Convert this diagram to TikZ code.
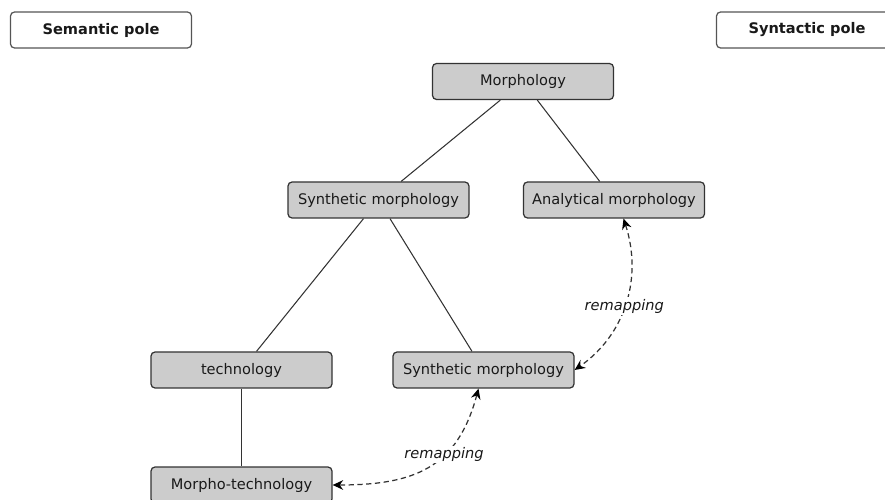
\documentclass[tikz,border=0pt]{standalone}
\usepackage{fontspec}
\setmainfont{DejaVu Sans}
\usetikzlibrary{arrows.meta}
\definecolor{boxfill}{HTML}{CCCCCC}
\definecolor{boxline}{HTML}{333333}
\definecolor{poleline}{HTML}{555555}

\begin{document}
\begin{tikzpicture}[
  box/.style={draw=boxline,fill=boxfill,rounded corners=2.3pt,line width=0.7pt,
    minimum width=3.62cm,minimum height=0.72cm,inner sep=0pt,
    font=\fontsize{8.3}{10}\selectfont,text=black!90},
  pole/.style={box,fill=white,draw=poleline,font=\fontsize{8.3}{10}\selectfont\bfseries},
  link/.style={draw=boxline,line width=0.6pt},
  remap/.style={draw=boxline,line width=0.7pt,dashed,dash pattern=on 3pt off 2pt,
    {Stealth[length=6pt,width=5.5pt,inset=2pt,black]}-{Stealth[length=6pt,width=5.5pt,inset=2pt,black]}},
  lbl/.style={fill=white,inner sep=1pt,font=\fontsize{8.3}{10}\selectfont\itshape,text=black!90}
]
\useasboundingbox (0,0) rectangle (17.7,-10);
% the two poles
\node[pole] at (2.02,-0.60) (sem) {Semantic pole};
\node[pole] at (16.14,-0.60) (syn) {Syntactic pole};
% the tree
\node[box] at (10.46,-1.63) (morph) {Morphology};
\node[box] at (7.57,-4.00) (synth) {Synthetic morphology};
\node[box] at (12.28,-4.00) (analyt) {Analytical morphology};
\node[box] at (4.83,-7.40) (tech) {technology};
\node[box] at (9.67,-7.40) (synthlow) {Synthetic morphology};
\node[box] at (4.83,-9.70) (morphotech) {Morpho-technology};
\draw[link] (morph) -- (synth);
\draw[link] (morph) -- (analyt);
\draw[link] (synth) -- (tech);
\draw[link] (synth) -- (synthlow);
\draw[link] (tech) -- (morphotech);
% remappings
\draw[remap] ([xshift=0.19cm]analyt.south) to[out=-72,in=35]
  node[lbl,pos=0.52] (remapA) {remapping} (synthlow.east);
\draw[remap] ([xshift=-0.1cm]synthlow.south) to[out=-105,in=0,looseness=1.2]
  node[lbl,pos=0.38] (remapB) {remapping} (morphotech.east);
\end{tikzpicture}
\end{document}
